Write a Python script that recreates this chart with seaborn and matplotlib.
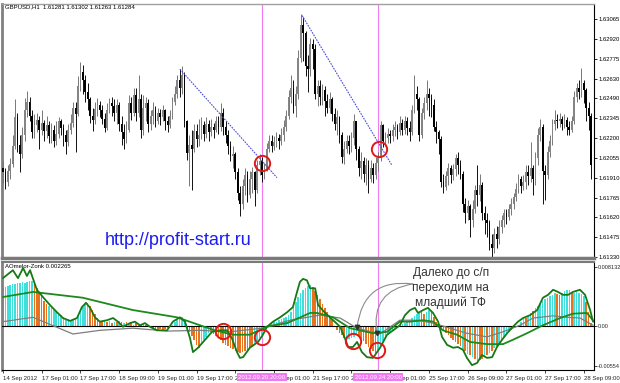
import numpy as np
import matplotlib
matplotlib.use("Agg")
import matplotlib.pyplot as plt
import matplotlib.transforms as mtrans
import seaborn as sns

# ---------------- data (GBPUSD H1 candles) ----------------
first_open = 1.6198
closes = [
 1.6195,1.6188,1.6196,1.6201,1.6214,1.6235,1.6215,1.6208,1.6222,1.6240,
 1.6246,1.6236,1.6224,1.6229,1.6233,1.6226,1.6231,1.6225,1.6229,1.6221,
 1.6226,1.6218,1.6223,1.6232,1.6227,1.6222,1.6217,1.6226,1.6231,1.6242,
 1.6237,1.6258,1.6268,1.6262,1.6253,1.6248,1.6236,1.6233,1.6241,1.6244,
 1.6240,1.6234,1.6227,1.6240,1.6245,1.6243,1.6238,1.6244,1.6230,1.6224,
 1.6219,1.6226,1.6245,1.6238,1.6251,1.6238,1.6248,1.6226,1.6242,1.6245,
 1.6230,1.6236,1.6240,1.6232,1.6238,1.6235,1.6240,1.6232,1.6229,1.6236,
 1.6246,1.6252,1.6262,1.6256,1.6266,1.6232,1.6209,1.6215,1.6212,1.6225,
 1.6219,1.6222,1.6229,1.6223,1.6230,1.6224,1.6228,1.6226,1.6232,1.6228,
 1.6238,1.6228,1.6222,1.6214,1.6207,1.6208,1.6195,1.6180,1.6172,1.6185,
 1.6193,1.6178,1.6190,1.6195,1.6182,1.6200,1.6203,1.6193,1.6197,1.6212,
 1.6218,1.6214,1.6217,1.6220,1.6218,1.6222,1.6228,1.6236,1.6250,1.6256,
 1.6243,1.6252,1.6278,1.6302,1.6296,1.6272,1.6270,1.6288,1.6285,1.6252,
 1.6258,1.6250,1.6255,1.6247,1.6242,1.6248,1.6237,1.6230,1.6235,1.6222,
 1.6206,1.6212,1.6218,1.6214,1.6220,1.6232,1.6212,1.6198,1.6203,1.6194,
 1.6200,1.6190,1.6198,1.6193,1.6202,1.6205,1.6229,1.6218,1.6220,1.6223,
 1.6221,1.6226,1.6228,1.6224,1.6231,1.6226,1.6232,1.6227,1.6224,1.6240,
 1.6252,1.6248,1.6222,1.6238,1.6245,1.6252,1.6249,1.6244,1.6228,1.6224,
 1.6219,1.6188,1.6184,1.6192,1.6198,1.6193,1.6197,1.6205,1.6200,1.6194,
 1.6172,1.6165,1.6170,1.6160,1.6168,1.6182,1.6178,1.6186,1.6165,1.6160,
 1.6158,1.6143,1.6140,1.6150,1.6146,1.6155,1.6160,1.6165,1.6162,1.6168,
 1.6172,1.6177,1.6183,1.6190,1.6185,1.6188,1.6195,1.6192,1.6198,1.6190,
 1.6205,1.6222,1.6228,1.6196,1.6193,1.6210,1.6218,1.6230,1.6233,1.6232,
 1.6234,1.6230,1.6233,1.6228,1.6226,1.6232,1.6250,1.6256,1.6253,1.6260,
 1.6255,1.6242,1.6236,1.6200]
highs = [
 1.6203,1.6198,1.6200,1.6205,1.6222,1.6248,1.6238,1.6222,1.6228,1.6249,
 1.6254,1.6250,1.6240,1.6237,1.6238,1.6236,1.6240,1.6233,1.6236,1.6232,
 1.6231,1.6229,1.6232,1.6235,1.6234,1.6230,1.6226,1.6230,1.6237,1.6246,
 1.6246,1.6265,1.6275,1.6273,1.6266,1.6260,1.6250,1.6242,1.6246,1.6249,
 1.6247,1.6244,1.6238,1.6245,1.6249,1.6250,1.6248,1.6248,1.6246,1.6236,
 1.6230,1.6232,1.6251,1.6250,1.6256,1.6256,1.6266,1.6252,1.6251,1.6250,
 1.6248,1.6240,1.6246,1.6243,1.6242,1.6241,1.6244,1.6241,1.6236,1.6240,
 1.6250,1.6258,1.6266,1.6270,1.6272,1.6268,1.6233,1.6222,1.6226,1.6230,
 1.6230,1.6234,1.6235,1.6232,1.6235,1.6233,1.6234,1.6231,1.6236,1.6236,
 1.6245,1.6242,1.6232,1.6226,1.6218,1.6214,1.6210,1.6198,1.6185,1.6190,
 1.6198,1.6196,1.6196,1.6199,1.6196,1.6204,1.6208,1.6206,1.6202,1.6216,
 1.6222,1.6222,1.6221,1.6224,1.6223,1.6227,1.6233,1.6240,1.6255,1.6266,
 1.6262,1.6258,1.6284,1.6310,1.6308,1.6298,1.6280,1.6293,1.6292,1.6288,
 1.6262,1.6262,1.6259,1.6258,1.6252,1.6253,1.6250,1.6242,1.6240,1.6236,
 1.6224,1.6218,1.6222,1.6222,1.6224,1.6237,1.6232,1.6214,1.6210,1.6206,
 1.6205,1.6204,1.6204,1.6202,1.6206,1.6210,1.6232,1.6230,1.6224,1.6227,
 1.6226,1.6230,1.6232,1.6230,1.6236,1.6234,1.6236,1.6235,1.6232,1.6244,
 1.6266,1.6258,1.6250,1.6242,1.6250,1.6262,1.6256,1.6252,1.6248,1.6232,
 1.6226,1.6221,1.6194,1.6196,1.6202,1.6200,1.6201,1.6208,1.6210,1.6204,
 1.6196,1.6176,1.6175,1.6172,1.6175,1.6186,1.6200,1.6194,1.6188,1.6170,
 1.6165,1.6160,1.6150,1.6154,1.6156,1.6160,1.6164,1.6168,1.6168,1.6172,
 1.6176,1.6180,1.6187,1.6194,1.6192,1.6193,1.6200,1.6200,1.6217,1.6200,
 1.6210,1.6227,1.6234,1.6230,1.6200,1.6214,1.6222,1.6234,1.6240,1.6237,
 1.6238,1.6236,1.6237,1.6235,1.6232,1.6236,1.6254,1.6260,1.6262,1.6271,
 1.6262,1.6256,1.6246,1.6238]
lows = [
 1.6187,1.6183,1.6185,1.6190,1.6199,1.6212,1.6210,1.6195,1.6205,1.6218,
 1.6235,1.6232,1.6220,1.6220,1.6224,1.6212,1.6222,1.6218,1.6220,1.6216,
 1.6216,1.6213,1.6215,1.6220,1.6222,1.6214,1.6208,1.6214,1.6223,1.6228,
 1.6210,1.6236,1.6254,1.6252,1.6246,1.6240,1.6231,1.6225,1.6230,1.6236,
 1.6235,1.6230,1.6224,1.6226,1.6238,1.6236,1.6232,1.6230,1.6225,1.6215,
 1.6212,1.6216,1.6224,1.6233,1.6236,1.6232,1.6235,1.6220,1.6222,1.6232,
 1.6224,1.6226,1.6230,1.6228,1.6230,1.6229,1.6232,1.6226,1.6224,1.6227,
 1.6234,1.6244,1.6249,1.6250,1.6252,1.6228,1.6204,1.6185,1.6182,1.6210,
 1.6213,1.6214,1.6219,1.6218,1.6220,1.6218,1.6221,1.6220,1.6224,1.6223,
 1.6225,1.6222,1.6216,1.6208,1.6203,1.6198,1.6190,1.6175,1.6163,1.6168,
 1.6178,1.6173,1.6176,1.6180,1.6170,1.6180,1.6193,1.6188,1.6190,1.6196,
 1.6210,1.6210,1.6211,1.6213,1.6212,1.6215,1.6218,1.6225,1.6234,1.6245,
 1.6238,1.6235,1.6248,1.6275,1.6276,1.6265,1.6253,1.6265,1.6270,1.6248,
 1.6243,1.6244,1.6244,1.6236,1.6238,1.6238,1.6232,1.6226,1.6222,1.6216,
 1.6202,1.6201,1.6209,1.6208,1.6210,1.6215,1.6204,1.6192,1.6190,1.6188,
 1.6186,1.6180,1.6188,1.6187,1.6190,1.6196,1.6203,1.6213,1.6214,1.6216,
 1.6216,1.6218,1.6221,1.6219,1.6222,1.6222,1.6223,1.6222,1.6218,1.6222,
 1.6238,1.6240,1.6218,1.6220,1.6234,1.6240,1.6236,1.6235,1.6225,1.6216,
 1.6208,1.6184,1.6180,1.6182,1.6186,1.6187,1.6189,1.6192,1.6194,1.6190,
 1.6166,1.6158,1.6160,1.6148,1.6155,1.6165,1.6170,1.6174,1.6160,1.6150,
 1.6148,1.6138,1.6133,1.6136,1.6140,1.6143,1.6151,1.6155,1.6157,1.6160,
 1.6164,1.6168,1.6174,1.6180,1.6180,1.6182,1.6183,1.6186,1.6188,1.6178,
 1.6186,1.6200,1.6218,1.6172,1.6175,1.6190,1.6206,1.6215,1.6226,1.6227,
 1.6228,1.6226,1.6227,1.6222,1.6222,1.6224,1.6230,1.6246,1.6248,1.6250,
 1.6245,1.6232,1.6226,1.6190]

# ---------------- indicator data ----------------
ao = [
 0.0052,0.0054,0.0055,0.0057,0.0058,0.0058,0.0059,0.0060,0.0061,0.0060,0.0061,0.0062,0.0062,
 0.0058,0.0053,0.0047,0.0041,0.0035,0.0030,
 0.0027,0.0025,0.0022,0.0020,0.0018,0.0015,
 0.0012,0.0010,0.0009,0.0008,0.0008,0.0010,
 0.0015,0.0021,0.0026,0.0030,0.0032,
 0.0028,0.0022,0.0016,0.0011,0.0007,
 0.0006,0.0008,0.0005,0.0007,0.0004,0.0006,0.0005,0.0007,
 0.0005,0.0004,0.0006,0.0003,0.0005,0.0002,0.0004,0.0003,0.0002,0.0003,0.0001,
 -0.0002,-0.0003,-0.0004,-0.0004,-0.0005,-0.0004,-0.0005,-0.0004,-0.0003,-0.0002,
 0.0002,0.0005,0.0008,0.0011,0.0012,0.0010,
 -0.0003,-0.0008,-0.0014,-0.0020,-0.0026,-0.0030,
 -0.0025,-0.0020,-0.0015,-0.0010,
 -0.0008,-0.0011,-0.0014,-0.0017,-0.0020,-0.0023,-0.0026,-0.0028,
 -0.0030,-0.0032,-0.0034,-0.0036,-0.0037,-0.0036,
 -0.0035,-0.0033,-0.0031,-0.0028,-0.0025,-0.0021,-0.0017,-0.0013,
 -0.0006,-0.0002,0.0002,
 0.0004,0.0005,0.0006,0.0008,0.0009,0.0011,0.0013,0.0015,
 0.0020,0.0026,0.0033,0.0040,
 0.0045,0.0049,0.0052,0.0055,0.0057,
 0.0054,0.0048,
 0.0043,0.0037,0.0031,0.0025,0.0019,0.0013,0.0008,
 -0.0001,-0.0005,-0.0009,-0.0013,-0.0017,
 -0.0020,-0.0018,-0.0016,-0.0015,-0.0013,
 -0.0015,-0.0018,-0.0021,-0.0025,-0.0029,-0.0032,-0.0035,-0.0037,
 -0.0033,-0.0027,-0.0021,-0.0015,
 -0.0012,-0.0009,-0.0006,-0.0003,-0.0001,0.0001,0.0003,0.0004,0.0006,0.0008,
 0.0011,0.0014,0.0017,0.0020,
 0.0019,0.0016,
 0.0020,0.0022,0.0019,
 0.0013,0.0006,-0.0001,
 -0.0004,-0.0007,-0.0010,-0.0013,-0.0016,-0.0019,-0.0022,-0.0025,
 -0.0028,-0.0032,-0.0035,-0.0038,-0.0040,
 -0.0043,-0.0046,-0.0048,-0.0047,-0.0045,
 -0.0042,-0.0040,-0.0037,-0.0035,-0.0031,-0.0027,-0.0024,
 -0.0019,-0.0015,-0.0011,-0.0008,-0.0005,
 -0.0003,-0.0001,0.0002,
 0.0006,0.0009,0.0011,0.0014,0.0018,0.0021,0.0025,0.0028,
 0.0031,0.0034,0.0037,0.0039,0.0041,0.0043,0.0045,
 0.0044,0.0043,
 0.0046,0.0048,0.0049,0.0050,
 0.0045,
 0.0046,0.0047,0.0046,0.0044,0.0042,
 0.0033,0.0020,0.0004]
ao_colors = ("c"*13 + "o"*6 + "c"*17 + "o"*5 + "ococococ" + "ocococococo" + "o"*10 +
             "c"*6 + "o"*6 + "c"*4 + "o"*14 + "oooocccc" + "c"*20 + "o"*14 +
             "c"*5 + "o"*8 + "c"*18 + "oo" + "cco" + "ooo" + "o"*8 + "ococo" +
             "cocoo" + "cocococ" + "c"*8 + "ccoccocc" + "c"*7 + "oo" + "cccc" +
             "o" + "ccccc" + "ooo")

# lines of the indicator (bar index, value in 1e-4 units)
fast_i = [0,4.1,6.2,8.3,9.9,11.2,14,16.5,19.4,22.3,24.8,27.7,30.6,32.6,34.3,36,38,40,43,45.5,
          47.5,49.6,52.5,54.5,56.6,58.7,60.7,63.6,67.8,70.2,73.1,75.2,77.3,78.5,80.6,83.5,86.4,89.7,92.6,94.6,
          96.7,97.9,99.2,102,105.4,107.4,109.1,111.6,114.5,117.4,119.8,121.5,122.7,124,125.6,126.9,129,130.2,133.1,136.4,
          139.3,141.3,142.6,144.6,146.3,148.3,150.4,152.9,155.8,158.7,161.2,164,166.1,168.2,170.2,171.5,173.6,175.6,177.7,179.8,
          181.4,183.5,186,188,190.1,191.7,193.8,195.9,197.9,200,202.1,204.1,206.2,208.3,210.7,212.8,214.9,217.8,220.7,223.1,
          225.2,227.3,229.3,231.4,233.5,235.5,238.4,240.5,242.6,243.8]
fast_e4 = [66,77,66,80,69,77,50,40,29,19,11,7,11,26,32,25,12,6,8,11,
           6,-1,4,6,1,4,-1,-6,-6,6,12,6,-17,-36,-30,-19,-8,-6,-6,-17,
           -36,-44,-43,-30,-22,-12,-1,6,12,19,26,47,61,65,63,52,52,29,18,8,
           -1,-17,-29,-29,-22,-36,-43,-44,-30,-12,-6,1,15,22,25,18,22,25,18,6,
           -15,-26,-30,-29,-33,-44,-54,-51,-40,-44,-43,-29,-19,-10,-1,6,11,15,22,39,
           43,50,47,43,43,47,50,43,22,6]
slow_i = [0,12.4,33,53.7,71.9,81.4,87.6,95,102,109,117.4,126.9,129.8,136.4,143.4,152.9,158.7,164,168.2,173.6,
          177.7,181.8,187.6,193,200,206.6,210.7,216.5,223.1,230.2,235.5,241.3,244.2]
slow_e4 = [40,47,39,22,12,1,-6,-12,-12,-1,4,18,18,12,-3,-10,-8,6,6,8,
           6,-6,-12,-22,-25,-25,-19,-10,1,11,17,18,6]
gray_i = [0,12.4,28.9,40,53.7,67.8,81.4,93.8,107,118.6,131,139.3,146.3,155.8,164,171,177.7,184.7,191.7,200,
          206.6,213.6,219,227.3,233,238.4,243.8]
gray_e4 = [6,12,-11,-6,-3,-7,-6,-8,-3,8,15,11,-3,-11,8,8,4,-3,-10,-15,-8,1,11,14,12,11,1]

# axis text
price_ticks = [1.63065,1.62920,1.62775,1.62630,1.62490,1.62345,1.62200,1.62055,1.61910,1.61765,1.61620,1.61475,1.61330]
ind_ticks = [0.008132, 0.0, -0.00554]
ind_tick_labels = ["0.008132", "0.00", "-0.00554"]
date_labels = ["14 Sep 2012","17 Sep 01:00","17 Sep 17:00","18 Sep 09:00","19 Sep 01:00","19 Sep 17:00",
               "20 Sep 09:00","21 Sep 01:00","21 Sep 17:00","24 Sep 09:00","25 Sep 01:00","25 Sep 17:00",
               "26 Sep 09:00","27 Sep 01:00","27 Sep 17:00","28 Sep 09:00"]
bars_per_label = 16
marks = [(107, "2012.09.20 20:00"), (155, "2012.09.24 20:00")]
trend1 = ([73.1, 113.2], [1.6270, 1.6191])
trend2 = ([123.6, 160.7], [1.6309, 1.6200])
price_circles = ([107, 155.4], [1.6202, 1.6212])
ind_circles = ([90.9, 107, 144.6, 154.5], [-0.0007, -0.0015, -0.0021, -0.0033])

# ---------------- figure ----------------
sns.set_theme(style="white")
plt.rcParams['font.family'] = ['Liberation Sans', 'DejaVu Sans']
fig = plt.figure(figsize=(6.2, 3.83), dpi=100)
W, H = 620.0, 383.0
ax = fig.add_axes([2/W, 1-258/H, 592/W, 254/H])
ax2 = fig.add_axes([2/W, 1-370/H, 592/W, 108/H])

n = len(closes)
idx = np.arange(n)
c = np.array(closes); hi = np.array(highs); lo = np.array(lows)
o = np.array([first_open] + closes[:-1])
up = c >= o
body_col = np.where(up, "#858585", "#000000")
wick_col = np.where(up, "#6e6e6e", "#000000")
ax.vlines(idx, lo, hi, colors=wick_col, lw=0.65, zorder=2)
ax.bar(idx, c - o, bottom=o, width=0.7, color=body_col, linewidth=0, zorder=3)

# trend lines
sns.lineplot(x=trend1[0], y=trend1[1], ax=ax, color="#4b4bd6", lw=0.8, linestyle=(0, (1.5, 1)), zorder=4)
sns.lineplot(x=trend2[0], y=trend2[1], ax=ax, color="#4b4bd6", lw=0.8, linestyle=(0, (1.5, 1)), zorder=4)
ax.plot(price_circles[0], price_circles[1], ls="none", marker="o", ms=11, mfc="none",
        mec="#e01818", mew=1.4, zorder=5)

pink = "#f07af0"
for xi, _ in marks:
    ax.axvline(xi, color=pink, lw=0.8, zorder=1)
    ax2.axvline(xi, color=pink, lw=0.8, zorder=1)

ax.set_xlim(-0.4, 244.2)
ax.set_ylim(1.61325, 1.63174)
ax.set_xticks([])
ax.yaxis.tick_right()
ax.set_yticks(price_ticks)
ax.set_yticklabels([f"{v:.5f}" for v in price_ticks])
ax.tick_params(axis="y", right=True, length=2, width=0.6, pad=1.2, labelsize=4.2, colors="black")
ax.set_xlabel(""); ax.set_ylabel("")
ax.text(0.005, 0.988, "GBPUSD,H1  1.61281 1.61302 1.61263 1.61284", transform=ax.transAxes,
        fontsize=4.3, va="center", ha="left", color="black")
ax.text(0.174, 0.067, "http://profit-start.ru", transform=ax.transAxes, fontsize=13,
        color="#1c1cf5", va="center", ha="left")
for side, (col, lw) in {"left": ("#808080", 2), "top": ("#a0a0a0", 1),
                        "bottom": ("#7a7a7a", 2.5), "right": ("black", 0.8)}.items():
    ax.spines[side].set_color(col); ax.spines[side].set_linewidth(lw)

# ---------------- indicator ----------------
bar_cols = ["#3fe0dc" if ch == "c" else "#e8731e" for ch in ao_colors]
ax2.bar(idx, ao, width=0.66, color=bar_cols, linewidth=0, zorder=2)
ax2.axhline(0, color="black", lw=0.8, zorder=3)
sns.lineplot(x=gray_i, y=np.array(gray_e4) * 1e-4, ax=ax2, color="#7d7d7d", lw=0.9, zorder=4)
sns.lineplot(x=slow_i, y=np.array(slow_e4) * 1e-4, ax=ax2, color="#1c8a1c", lw=1.3, zorder=5)
sns.lineplot(x=fast_i, y=np.array(fast_e4) * 1e-4, ax=ax2, color="#157a15", lw=1.3, zorder=6)
ax2.plot(ind_circles[0], ind_circles[1], ls="none", marker="o", ms=11, mfc="none",
         mec="#e01818", mew=1.4, zorder=7)

# callout
tip = (169.4, 0.0058)
for tx, ty in [(146.3, -0.0002), (154.5, -0.0010)]:
    ax2.annotate("", xy=(tx, ty), xytext=tip,
                 arrowprops=dict(arrowstyle="-", color="#8c8c8c", lw=0.8,
                                 connectionstyle="arc3,rad=0.5", shrinkA=0, shrinkB=0), zorder=8)
ax2.plot([146.3, 154.5], [-0.0002, -0.0010], ls="none", marker="v", ms=3.2, color="#303030", zorder=8)
ax2.text(0.758, 0.755, "Далеко до с/п\nпереходим на\nмладший ТФ", transform=ax2.transAxes,
         fontsize=8.6, color="#333333", ha="center", va="center", linespacing=1.3, zorder=9)
ax2.text(0.005, 0.955, "AOmelor-Zonk 0.002265", transform=ax2.transAxes, fontsize=4.3,
         va="center", ha="left", color="black")

ax2.set_xlim(-0.4, 244.2)
ax2.set_ylim(-0.00607, 0.00883)
ax2.yaxis.tick_right()
ax2.set_yticks(ind_ticks)
ax2.set_yticklabels(ind_tick_labels)
ax2.tick_params(axis="y", right=True, length=2, width=0.6, pad=1.0, labelsize=4.0)
tick_pos = [k * bars_per_label for k in range(len(date_labels))]
ax2.set_xticks(tick_pos)
ax2.set_xticklabels(date_labels, ha="left")
ax2.tick_params(axis="x", bottom=True, length=2.5, width=0.6, pad=1.5, labelsize=4.3)
ax2.set_xlabel(""); ax2.set_ylabel("")
for side, (col, lw) in {"left": ("#808080", 2), "top": ("#7a7a7a", 1.5),
                        "bottom": ("black", 0.8), "right": ("black", 0.8)}.items():
    ax2.spines[side].set_color(col); ax2.spines[side].set_linewidth(lw)

trans = mtrans.blended_transform_factory(ax2.transData, ax2.transAxes)
for xi, lab in marks:
    ax2.text(xi, -0.068, lab, transform=trans, fontsize=4.3, color="white", ha="center", va="center",
             bbox=dict(boxstyle="square,pad=0.25", fc="#f07af0", ec="none"), zorder=10, clip_on=False)

fig.savefig("out.png", dpi=100)
